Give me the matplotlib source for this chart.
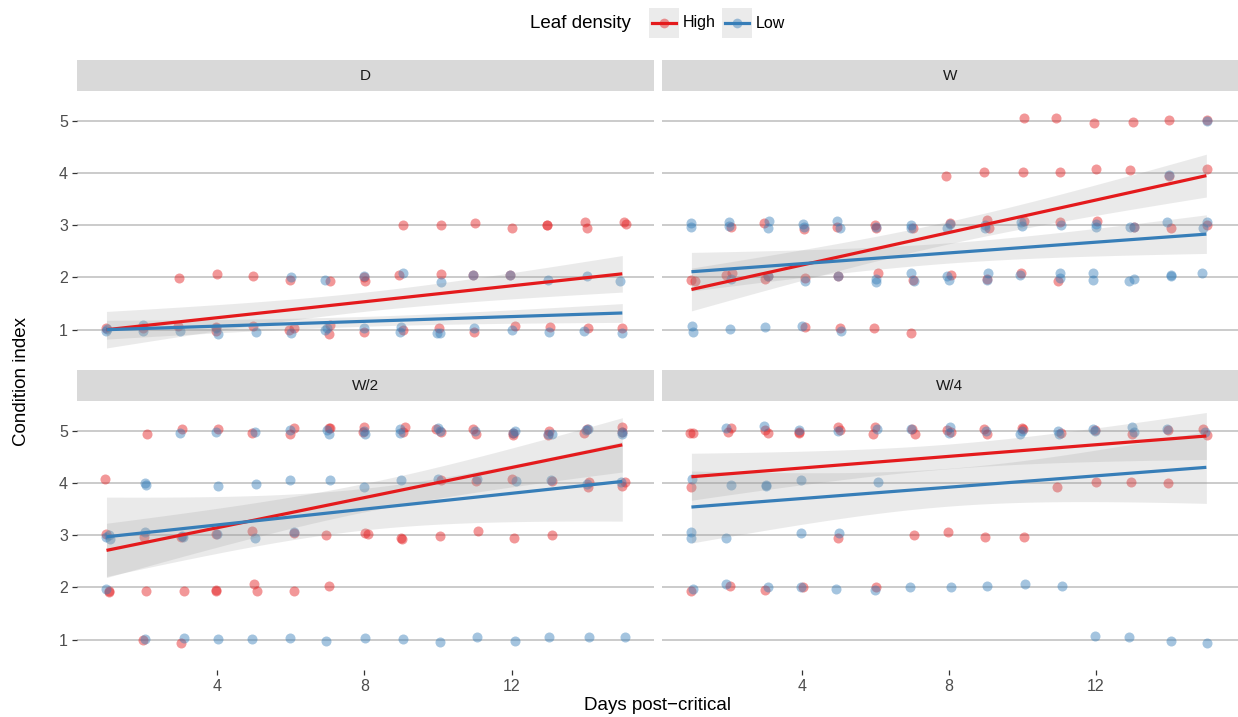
import numpy as np
import matplotlib
matplotlib.use('Agg')
import matplotlib.pyplot as plt
from matplotlib.patches import Rectangle
from matplotlib.lines import Line2D

plt.rcParams['font.family'] = ['Liberation Sans', 'DejaVu Sans']

RED = '#E41A1C'
BLUE = '#377EB8'

panels = ['D', 'W', 'W/2', 'W/4']

# jittered points: (day, condition index)
d_high_x = [0.98, 1.98, 2.95, 3.96, 3.98, 4.97, 5.95, 6.08, 7.06, 7.04, 7.98, 9.06, 10.02, 10.98, 12.08,
            13.04, 14.08, 14.98,
            2.98, 4.0, 4.97, 5.97, 7.08, 7.98, 8.02, 8.95, 10.09, 10.95, 11.94,
            9.06, 10.09, 10.99, 12.01, 12.95, 12.96, 14.0, 14.04, 15.04, 15.1]
d_high_y = [1.04, 1.04, 1.08, 1.06, 0.97, 1.08, 0.99, 1.04, 1.09, 0.92, 0.96, 0.99, 1.04, 0.95, 1.07,
            1.06, 1.04, 1.04,
            1.99, 2.07, 2.02, 1.96, 1.93, 2.01, 1.93, 2.05, 2.07, 2.05, 2.05,
            3.0, 3.0, 3.05, 2.94, 3.01, 3.0, 3.07, 2.95, 3.07, 3.03]
d_low_x = [1.0, 1.02, 1.98, 2.0, 3.0, 4.02, 3.98, 5.06, 6.0, 6.98, 6.94, 8.0, 8.96, 9.0, 10.05, 9.98,
           10.97, 12.0, 13.0, 13.95, 14.98,
           6.02, 6.92, 7.98, 9.06, 10.09, 10.95, 11.94, 12.98, 14.05, 14.95]
d_low_y = [0.97, 1.01, 1.09, 0.97, 0.97, 0.92, 1.03, 0.95, 0.93, 1.03, 0.99, 1.04, 0.95, 1.06, 0.93, 0.93,
           1.04, 0.99, 0.95, 0.97, 0.94,
           2.0, 1.96, 2.03, 2.08, 1.92, 2.05, 2.05, 1.96, 2.02, 1.94]

w_high_x = [10.05, 10.91, 11.94, 13.0, 13.98, 15.01,
            7.93, 8.95, 10.01, 11.01, 11.99, 12.93, 13.98, 15.01,
            2.07, 2.98, 4.07, 4.95, 6.0, 6.03, 7.03, 8.04, 9.03, 9.09, 10.04, 11.03, 12.02, 13.03, 14.05, 15.03,
            0.98, 1.1, 1.95, 2.09, 2.99, 3.09, 4.1, 4.98, 6.07, 7.03, 8.06, 9.03, 9.96, 10.97,
            4.1, 5.03, 5.97, 6.96]
w_high_y = [5.06, 5.05, 4.95, 4.97, 5.01, 5.02,
            3.94, 4.01, 4.01, 4.01, 4.07, 4.05, 3.94, 4.08,
            2.97, 3.05, 2.92, 2.96, 3.0, 2.94, 2.94, 3.04, 3.1, 2.94, 3.09, 3.07, 3.08, 2.97, 2.94, 3.01,
            1.96, 1.94, 2.05, 2.08, 1.97, 2.02, 1.99, 2.03, 2.08, 1.96, 2.05, 1.97, 2.08, 1.94,
            1.05, 1.04, 1.04, 0.93]
w_low_x = [15.01, 13.98,
           1.0, 1.0, 2.01, 2.03, 3.11, 3.07, 4.03, 4.07, 4.95, 5.05, 6.03, 6.96, 6.96, 7.95, 8.04, 8.97, 8.99,
           9.96, 9.99, 11.05, 11.99, 11.99, 12.93, 13.03, 13.92, 15.01, 14.91,
           2.07, 3.07, 4.1, 4.98, 6.01, 6.02, 6.96, 7.05, 8.01, 7.95, 9.07, 9.03, 9.93, 11.01, 11.01, 11.91,
           11.91, 12.89, 13.03, 14.03, 14.03, 14.89,
           1.02, 1.04, 2.04, 2.99, 4.0, 5.07]
w_low_y = [5.0, 3.96,
           3.04, 2.96, 3.07, 2.99, 3.08, 2.94, 3.02, 2.96, 3.08, 2.95, 2.97, 3.0, 2.94, 2.94, 3.03, 3.0, 2.94,
           3.07, 2.99, 3.0, 2.97, 3.03, 2.96, 2.97, 3.07, 3.07, 2.94,
           1.97, 2.02, 1.93, 2.02, 1.92, 1.97, 2.08, 1.94, 1.96, 2.02, 2.08, 1.96, 2.05, 2.08, 1.99, 2.09,
           1.96, 1.93, 1.98, 2.05, 2.03, 2.08,
           1.07, 0.96, 1.01, 1.06, 1.07, 0.98]

w2_high_x = [2.1, 3.04, 4.02, 4.96, 6.08, 5.99, 7.03, 7.07, 7.99, 7.97, 9.1, 9.04, 9.94, 10.07, 10.96, 11.03,
             12.02, 12.02, 13.01, 12.97, 13.97, 14.03, 15.0, 15.0,
             0.95, 10.07, 11.04, 12.01, 13.09, 14.06, 14.09, 14.99, 15.08,
             0.99, 2.02, 3.03, 3.98, 4.95, 6.08, 6.97, 8.02, 8.09, 8.99, 9.01, 10.04, 11.08, 12.07, 13.1,
             1.07, 1.06, 2.08, 3.1, 3.98, 3.98, 5.0, 5.09, 6.09, 7.05,
             1.98, 3.01]
w2_high_y = [4.94, 5.04, 5.03, 4.95, 5.06, 4.93, 5.06, 5.05, 5.08, 4.97, 5.08, 4.97, 5.04, 4.97, 5.04, 4.94,
             4.92, 4.96, 4.99, 4.92, 4.96, 5.03, 5.07, 4.97,
             4.08, 4.06, 4.03, 4.08, 4.03, 3.92, 4.02, 3.94, 4.01,
             3.03, 2.97, 2.96, 3.03, 3.08, 3.05, 3.01, 3.05, 3.03, 2.94, 2.93, 2.99, 3.08, 2.94, 3.01,
             1.92, 1.94, 1.93, 1.93, 1.95, 1.93, 2.07, 1.94, 1.93, 2.03,
             0.99, 0.94]
w2_low_x = [2.99, 3.96, 5.02, 5.98, 7.03, 6.99, 7.99, 8.03, 8.97, 8.97, 10.01, 10.05, 10.99, 12.09, 12.04,
            13.09, 12.97, 14.01, 14.06, 14.99, 14.99,
            2.04, 2.07, 4.04, 5.06, 5.98, 7.07, 8.0, 8.98, 10.0, 11.06, 12.11, 13.07, 14.04, 14.97,
            1.0, 1.1, 1.06, 2.05, 3.05, 3.07, 3.99, 5.02, 6.09,
            1.0,
            2.05, 3.11, 4.03, 4.95, 5.99, 6.96, 8.02, 9.04, 10.04, 11.05, 12.09, 13.02, 14.09, 15.07]
w2_low_y = [4.95, 4.97, 4.98, 5.01, 4.93, 5.02, 5.0, 4.93, 5.03, 4.96, 5.06, 5.0, 4.99, 5.0, 4.95,
            4.93, 4.94, 5.02, 5.03, 4.98, 4.93,
            4.0, 3.97, 3.95, 3.98, 4.06, 4.05, 3.93, 4.05, 4.08, 4.08, 4.03, 4.05, 3.99, 4.02,
            2.96, 2.93, 3.01, 3.06, 2.99, 2.96, 3.03, 2.95, 3.06,
            1.97,
            1.01, 1.03, 1.01, 1.01, 1.03, 0.98, 1.04, 1.02, 0.96, 1.06, 0.98, 1.06, 1.06, 1.05]

w4_high_x = [0.97, 1.03, 2.0, 2.07, 3.0, 3.07, 3.93, 3.93, 4.99, 5.04, 5.94, 6.0, 7.01, 7.07, 7.96, 8.07,
             8.95, 9.04, 9.99, 10.02, 11.05, 11.96, 12.99, 13.96, 14.9, 15.02,
             0.98, 10.93, 12.01, 12.95, 13.96,
             4.99, 7.05, 7.97, 8.99, 10.05,
             0.99, 2.05, 3.01, 4.03, 6.03]
w4_high_y = [4.95, 4.95, 4.97, 5.05, 5.01, 4.95, 4.97, 4.96, 5.08, 5.01, 4.93, 5.07, 5.03, 4.94, 5.02, 4.97,
             5.04, 4.93, 5.06, 5.03, 4.96, 5.02, 4.93, 5.02, 5.03, 4.92,
             3.92, 3.93, 4.02, 4.02, 4.0,
             2.94, 3.0, 3.07, 2.97, 2.97,
             1.93, 2.03, 1.96, 2.0, 2.01]
w4_low_x = [1.95, 2.98, 3.93, 4.98, 6.05, 6.96, 8.02, 8.0, 9.0, 9.93, 10.0, 10.96, 11.0, 11.91, 11.96,
            12.99, 13.02, 13.94, 14.97,
            1.02, 2.08, 3.02, 3.02, 3.99, 6.08,
            0.99, 0.99, 1.94, 3.98, 5.02,
            1.03, 1.94, 3.09, 3.98, 4.93, 5.99, 6.95, 8.05, 9.03, 10.06, 11.07,
            11.97, 12.91, 14.04, 15.01]
w4_low_y = [5.05, 5.09, 5.02, 5.0, 5.03, 5.04, 5.08, 4.95, 5.0, 4.93, 4.99, 5.0, 4.94, 5.04, 5.0,
            5.07, 4.97, 5.04, 4.98,
            4.07, 3.97, 3.97, 3.95, 4.05, 4.02,
            3.07, 2.95, 2.95, 3.05, 3.04,
            1.98, 2.06, 2.01, 2.01, 1.97, 1.96, 2.01, 2.0, 2.03, 2.07, 2.03,
            1.08, 1.06, 0.97, 0.94]

high_x = [d_high_x, w_high_x, w2_high_x, w4_high_x]
high_y = [d_high_y, w_high_y, w2_high_y, w4_high_y]
low_x = [d_low_x, w_low_x, w2_low_x, w4_low_x]
low_y = [d_low_y, w_low_y, w2_low_y, w4_low_y]

# fitted lm lines (value at day 1 and day 15) and CI half-width at the ends
fit_high_start = [1.00, 1.77, 2.71, 4.12]
fit_high_end = [2.07, 3.95, 4.73, 4.90]
fit_low_start = [1.00, 2.11, 2.97, 3.54]
fit_low_end = [1.32, 2.83, 4.03, 4.30]
ci_high = [0.35, 0.41, 0.52, 0.45]
ci_low = [0.18, 0.37, 0.76, 0.69]

W, H = 1238, 717
fig = plt.figure(figsize=(W / 100, H / 100), dpi=100)


def px_axes(x0, y0, x1, y1):
    return fig.add_axes([x0 / W, 1 - y1 / H, (x1 - x0) / W, (y1 - y0) / H])


cols = [(77, 654), (662, 1238)]
rows = [(91, 360), (401, 670)]
strip_h = 31

days = np.linspace(1, 15, 100)


def band(hw_end):
    return hw_end * np.sqrt((18.67 + (days - 8) ** 2) / (18.67 + 49))


for i, name in enumerate(panels):
    r, c = divmod(i, 2)
    x0, x1 = cols[c]
    y0, y1 = rows[r]
    ax = px_axes(x0, y0, x1, y1)
    st = px_axes(x0, y0 - strip_h, x1, y0)
    st.set_facecolor('#D9D9D9')
    st.set_xticks([])
    st.set_yticks([])
    for s in st.spines.values():
        s.set_visible(False)
    st.text(0.5, 0.5, name, ha='center', va='center', fontsize=11, color='#1A1A1A',
            transform=st.transAxes)

    ax.scatter(high_x[i], high_y[i], s=52, color=RED, alpha=0.45, linewidths=0, zorder=3)
    ax.scatter(low_x[i], low_y[i], s=52, color=BLUE, alpha=0.45, linewidths=0, zorder=3)

    for start, end, hw, col in [(fit_high_start[i], fit_high_end[i], ci_high[i], RED),
                                (fit_low_start[i], fit_low_end[i], ci_low[i], BLUE)]:
        yfit = start + (end - start) * (days - 1) / 14
        b = band(hw)
        ax.fill_between(days, yfit - b, yfit + b, color='#999999', alpha=0.2, linewidth=0, zorder=4)
        ax.plot(days, yfit, color=col, lw=2.3, zorder=5, solid_capstyle='butt')

    ax.set_xlim(0.2, 15.86)
    ax.set_ylim(0.42, 5.57)
    ax.set_yticks([1, 2, 3, 4, 5])
    ax.set_xticks([4, 8, 12])
    ax.grid(axis='y', color='#BDBDBD', lw=1.1)
    ax.set_axisbelow(True)
    for s in ax.spines.values():
        s.set_visible(False)
    ax.tick_params(length=3.5, width=0.9, color='#333333', labelcolor='#4D4D4D', labelsize=11.5, pad=3)
    if c == 1:
        ax.tick_params(axis='y', left=False, labelleft=False)
    if r == 0:
        ax.tick_params(axis='x', bottom=False, labelbottom=False)

fig.text(22 / W, 1 - 381 / H, 'Condition index', rotation=90, ha='center', va='center',
         fontsize=13.5, color='#000000')
fig.text(658 / W, 1 - 705 / H, 'Days post\u2212critical', ha='center', va='center',
         fontsize=13.5, color='#000000')

# legend drawn at the top
fig.text(530 / W, 1 - 23 / H, 'Leaf density', ha='left', va='center', fontsize=13.5)
for kx, col, lab in [(649, RED, 'High'), (722, BLUE, 'Low')]:
    fig.patches.append(Rectangle((kx / W, 1 - 38 / H), 30 / W, 30 / H, transform=fig.transFigure,
                                 facecolor='#EBEBEB', edgecolor='none'))
    fig.lines.append(Line2D([(kx + 3) / W, (kx + 27) / W], [1 - 23 / H, 1 - 23 / H],
                            transform=fig.transFigure, color=col, lw=2.3))
    fig.lines.append(Line2D([(kx + 15) / W], [1 - 23 / H], transform=fig.transFigure,
                            marker='o', markersize=7, color=col, alpha=0.45, markeredgewidth=0))
    fig.text((kx + 34) / W, 1 - 23 / H, lab, ha='left', va='center', fontsize=11.5)

fig.savefig('out.png', dpi=100)
plt.close(fig)
